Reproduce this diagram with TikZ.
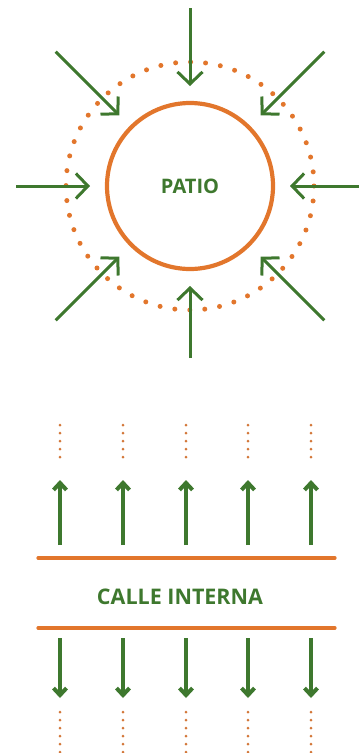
\documentclass[tikz,border=0pt]{standalone}
\usepackage{fontspec}
\setmainfont{Open Sans}
\usetikzlibrary{positioning,arrows.meta}
\definecolor{leafgreen}{RGB}{62,120,46}
\definecolor{brickorange}{RGB}{226,118,44}

\begin{document}
\begin{tikzpicture}[x=1pt,y=-1pt,
  inflow/.style={draw=leafgreen,line width=3pt,-{Straight Barb[length=12pt,width=25pt]}},
  outflow/.style={draw=leafgreen,line width=4pt,-{Straight Barb[length=7pt,width=13pt]}},
  road/.style={draw=brickorange,line width=3.2pt,line cap=round},
  trail/.style={draw=brickorange!85!gray,line width=3pt,line cap=round,dash pattern=on 0pt off 8pt},
  tag/.style={font=\bfseries,text=leafgreen}]
\useasboundingbox (0,0) rectangle (359,753);
% patio and its ring
\node (patio) at (190,186) [circle,draw=brickorange,line width=4.2pt,minimum size=166pt,tag,font=\bfseries\fontsize{20}{22}\selectfont] {PATIO};
\draw[brickorange,line width=5pt,line cap=round,dash pattern=on 0pt off 15pt] (patio.center) circle (124);
\foreach \a/\r in {0/170,45/190,90/172,135/190,180/174,225/190,270/178,315/190}{
  \coordinate (from\a) at ([shift={(\a:\r)}]patio.center);
  \coordinate (to\a) at ([shift={(\a:100)}]patio.center);
  \draw[inflow] (from\a) -- (to\a);
}
% calle interna
\node (calle) at (180,597) [tag,font=\bfseries\fontsize{21.5}{24}\selectfont] {CALLE INTERNA};
\coordinate (nw) at (38,558);
\coordinate (ne) at (335,558);
\coordinate (sw) at (38,628);
\coordinate (se) at (335,628);
\draw[road] (nw) -- (ne);
\draw[road] (sw) -- (se);
\foreach \x [count=\i] in {60,123,186,248,311}{
  \coordinate (ua\i) at (\x,545);
  \coordinate (ub\i) at (\x,480);
  \coordinate (da\i) at (\x,638);
  \coordinate (db\i) at (\x,698);
  \draw[outflow] (ua\i) -- (ub\i);
  \draw[outflow] (da\i) -- (db\i);
  \draw[trail] (\x,425) -- (\x,463);
  \draw[trail] (\x,712) -- (\x,752);
}
\end{tikzpicture}
\end{document}
